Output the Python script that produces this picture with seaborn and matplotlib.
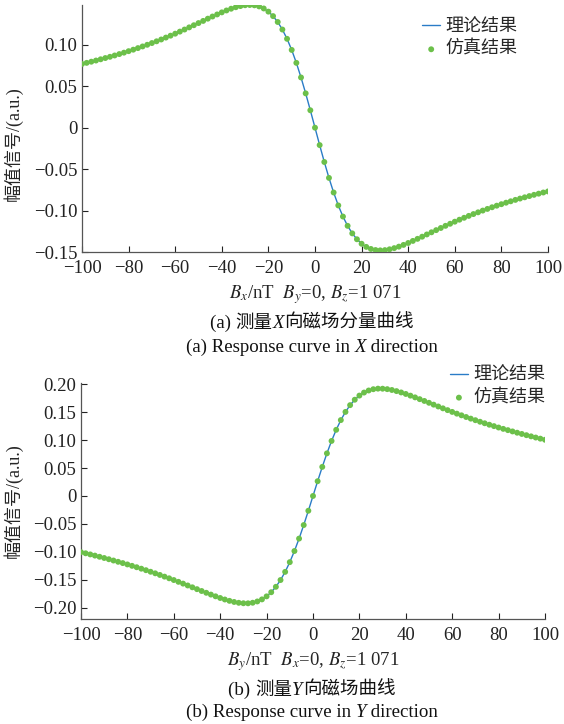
import matplotlib
matplotlib.use("Agg")
import matplotlib.pyplot as plt
import seaborn as sns
import pandas as pd
from matplotlib.offsetbox import TextArea, HPacker, AnchoredOffsetbox

# field values (nT), one sample every 2 nT
field = [-100, -98, -96, -94, -92, -90, -88, -86, -84, -82,
         -80, -78, -76, -74, -72, -70, -68, -66, -64, -62,
         -60, -58, -56, -54, -52, -50, -48, -46, -44, -42,
         -40, -38, -36, -34, -32, -30, -28, -26, -24, -22,
         -20, -18, -16, -14, -12, -10, -8, -6, -4, -2,
         0,
         2, 4, 6, 8, 10, 12, 14, 16, 18, 20,
         22, 24, 26, 28, 30, 32, 34, 36, 38, 40,
         42, 44, 46, 48, 50, 52, 54, 56, 58, 60,
         62, 64, 66, 68, 70, 72, 74, 76, 78, 80,
         82, 84, 86, 88, 90, 92, 94, 96, 98, 100]

# (a) X direction response
resp_x = [0.0769, 0.0782, 0.0796, 0.0810, 0.0825, 0.0840, 0.0855, 0.0871, 0.0888, 0.0905,
          0.0923, 0.0941, 0.0960, 0.0980, 0.1000, 0.1021, 0.1042, 0.1064, 0.1087, 0.1110,
          0.1134, 0.1159, 0.1184, 0.1210, 0.1236, 0.1262, 0.1288, 0.1315, 0.1341, 0.1366,
          0.1391, 0.1414, 0.1435, 0.1453, 0.1467, 0.1477, 0.1480, 0.1476, 0.1463, 0.1438,
          0.1400, 0.1346, 0.1275, 0.1184, 0.1072, 0.0938, 0.0782, 0.0606, 0.0414, 0.0210,
          0.0,
          -0.0210, -0.0414, -0.0606, -0.0782, -0.0938, -0.1072, -0.1184, -0.1275, -0.1346, -0.1400,
          -0.1438, -0.1463, -0.1476, -0.1480, -0.1477, -0.1467, -0.1453, -0.1435, -0.1414, -0.1391,
          -0.1366, -0.1341, -0.1315, -0.1288, -0.1262, -0.1236, -0.1210, -0.1184, -0.1159, -0.1134,
          -0.1110, -0.1087, -0.1064, -0.1042, -0.1021, -0.1000, -0.0980, -0.0960, -0.0941, -0.0923,
          -0.0905, -0.0888, -0.0871, -0.0855, -0.0840, -0.0825, -0.0810, -0.0796, -0.0782, -0.0769]

# (b) Y direction response
resp_y = [-0.1005, -0.1025, -0.1045, -0.1066, -0.1087, -0.1109, -0.1131, -0.1154, -0.1177, -0.1200,
          -0.1224, -0.1249, -0.1274, -0.1300, -0.1327, -0.1355, -0.1383, -0.1412, -0.1442, -0.1472,
          -0.1503, -0.1535, -0.1567, -0.1600, -0.1633, -0.1666, -0.1699, -0.1731, -0.1763, -0.1794,
          -0.1824, -0.1851, -0.1875, -0.1895, -0.1910, -0.1918, -0.1919, -0.1909, -0.1886, -0.1849,
          -0.1795, -0.1721, -0.1624, -0.1503, -0.1357, -0.1183, -0.0984, -0.0762, -0.0520, -0.0264,
          0.0,
          0.0264, 0.0520, 0.0762, 0.0984, 0.1183, 0.1357, 0.1503, 0.1624, 0.1721, 0.1795,
          0.1849, 0.1886, 0.1909, 0.1919, 0.1918, 0.1910, 0.1895, 0.1875, 0.1851, 0.1824,
          0.1794, 0.1763, 0.1731, 0.1699, 0.1666, 0.1633, 0.1600, 0.1567, 0.1535, 0.1503,
          0.1472, 0.1442, 0.1412, 0.1383, 0.1355, 0.1327, 0.1300, 0.1274, 0.1249, 0.1224,
          0.1200, 0.1177, 0.1154, 0.1131, 0.1109, 0.1087, 0.1066, 0.1045, 0.1025, 0.1005]

xticks = [-100, -80, -60, -40, -20, 0, 20, 40, 60, 80, 100]
yticks_a = [-0.15, -0.10, -0.05, 0, 0.05, 0.10]
yticks_b = [-0.20, -0.15, -0.10, -0.05, 0, 0.05, 0.10, 0.15, 0.20]

LINE_COLOR = "#2a7cc7"
DOT_COLOR = "#6cc04a"
FAMILY = ["Liberation Serif", "Noto Sans CJK SC"]

sns.set_style("ticks")
plt.rcParams["font.family"] = FAMILY
plt.rcParams["mathtext.fontset"] = "stix"
plt.rcParams["axes.unicode_minus"] = True

df_a = pd.DataFrame({"B": field, "amp": resp_x})
df_b = pd.DataFrame({"B": field, "amp": resp_y})

fig = plt.figure(figsize=(5.64, 7.24), dpi=100)
ax1 = fig.add_axes([0.1454, 0.6519, 0.8262, 0.3412])
ax2 = fig.add_axes([0.1436, 0.1450, 0.8227, 0.3260])


def tick_label(v):
    if v == 0:
        return "0"
    return f"{v:.2f}".replace("-", "\u2212")


def draw(ax, df, yticks, ylim, xlabel, leg_anchor, ylab_xy):
    sns.lineplot(data=df, x="B", y="amp", ax=ax, color=LINE_COLOR, linewidth=1.0,
                 label="理论结果", zorder=2)
    sns.scatterplot(data=df, x="B", y="amp", ax=ax, color=DOT_COLOR, s=18,
                    edgecolor="none", label="仿真结果", zorder=3)
    ax.set_xlim(-100, 100)
    ax.set_ylim(*ylim)
    ax.set_xticks(xticks)
    ax.set_xticklabels([str(t).replace("-", "\u2212") for t in xticks])
    ax.set_yticks(yticks)
    ax.set_yticklabels([tick_label(t) for t in yticks])
    ax.tick_params(direction="in", length=4, width=0.8, labelsize=13.5, colors="#222222")
    ax.tick_params(axis="x", pad=6)
    for side in ["left", "bottom"]:
        ax.spines[side].set_color("#555555")
        ax.spines[side].set_linewidth(0.9)
    sns.despine(ax=ax)
    ax.set_xlabel(xlabel, fontsize=13.5, labelpad=4)
    ax.set_ylabel("幅值信号/(a.u.)", fontsize=13)
    ax.yaxis.set_label_coords(*ylab_xy)
    ax.legend(loc="upper left", frameon=False, fontsize=13, handlelength=1.0,
              handletextpad=0.3, labelspacing=0.3, borderpad=0, borderaxespad=0,
              bbox_to_anchor=leg_anchor)


draw(ax1, df_a, yticks_a, (-0.15, 0.148), r"$B_x$/nT  $B_y$=0, $B_z$=1 071",
     (0.73, 0.945), (-0.127, 0.44))
draw(ax2, df_b, yticks_b, (-0.22, 0.202), r"$B_y$/nT  $B_x$=0, $B_z$=1 071",
     (0.795, 1.068), (-0.125, 0.50))


def caption(y, parts):
    boxes = []
    for text, kind in parts:
        if kind == "cjk":
            props = dict(fontsize=13.3, family="Noto Sans CJK SC", color="#111111")
        else:
            props = dict(fontsize=13.6, family="Liberation Serif", color="#111111")
            if kind == "it":
                props["style"] = "italic"
        boxes.append(TextArea(text, textprops=props))
    pack = HPacker(children=boxes, align="baseline", pad=0, sep=0)
    box = AnchoredOffsetbox(loc="center", child=pack, frameon=False, pad=0, borderpad=0,
                            bbox_to_anchor=(0.553, y), bbox_transform=fig.transFigure)
    fig.add_artist(box)


caption(1 - 323 / 724, [("(a) ", "rm"), ("测量", "cjk"), ("X", "it"), ("向磁场分量曲线", "cjk")])
caption(1 - 347 / 724, [("(a) Response curve in ", "rm"), ("X", "it"), (" direction", "rm")])
caption(1 - 690 / 724, [("(b) ", "rm"), ("测量", "cjk"), ("Y", "it"), ("向磁场曲线", "cjk")])
caption(1 - 712 / 724, [("(b) Response curve in ", "rm"), ("Y", "it"), (" direction", "rm")])

fig.savefig("out.png", dpi=100)
